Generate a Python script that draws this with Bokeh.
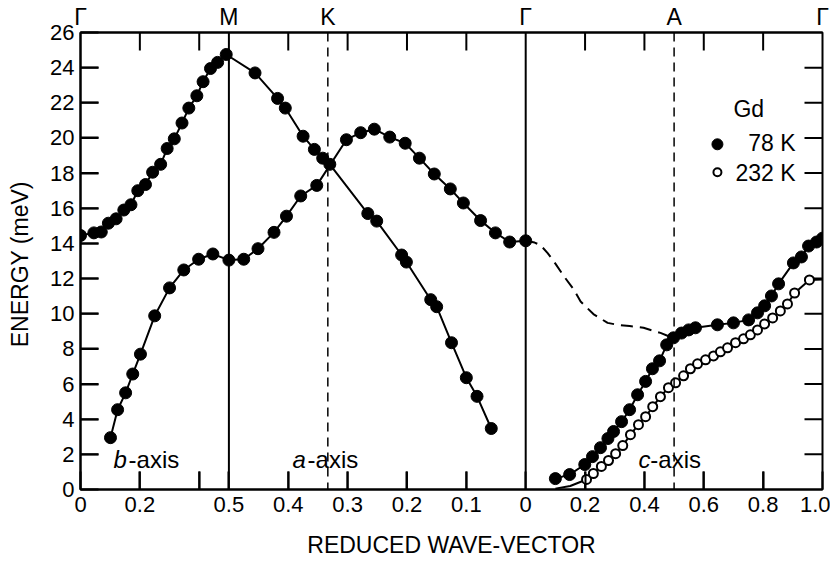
from bokeh.plotting import figure
from bokeh.models import Range1d, LinearAxis, FixedTicker, Span
from bokeh.embed import file_html
from bokeh.resources import INLINE

# ---------------- data (reduced wave-vector q, energy in meV) ----------------
# b-axis (Gamma -> M), upper branch
b_up_q = [0.0, 0.045, 0.07, 0.094, 0.12, 0.146, 0.17, 0.193, 0.219, 0.243, 0.27,
          0.292, 0.316, 0.342, 0.365, 0.392, 0.413, 0.438, 0.462, 0.491]
b_up_E = [14.45, 14.6, 14.65, 15.15, 15.4, 15.9, 16.2, 17.0, 17.35, 18.05, 18.5,
          19.4, 19.95, 20.85, 21.7, 22.4, 23.2, 23.95, 24.3, 24.75]
# a-axis (M -> K -> Gamma), continuation of the upper branch
a_up_q = [0.456, 0.418, 0.405, 0.375, 0.356, 0.342, 0.33, 0.266, 0.251, 0.209,
          0.201, 0.16, 0.15, 0.125, 0.1, 0.082, 0.058]
a_up_E = [23.7, 22.25, 21.7, 20.1, 19.35, 18.85, 18.5, 15.7, 15.27, 13.34,
          12.94, 10.8, 10.4, 8.35, 6.36, 5.3, 3.47]
# b-axis lower branch
b_lo_q = [0.101, 0.125, 0.152, 0.176, 0.202, 0.25, 0.3, 0.348, 0.398, 0.446, 0.5]
b_lo_E = [2.95, 4.54, 5.5, 6.57, 7.7, 9.88, 11.47, 12.49, 13.1, 13.4, 13.05]
# a-axis continuation of the lower branch
a_lo_q = [0.475, 0.451, 0.424, 0.403, 0.379, 0.352, 0.302, 0.278, 0.255, 0.229,
          0.203, 0.179, 0.154, 0.127, 0.105, 0.076, 0.051, 0.027, 0.0]
a_lo_E = [13.1, 13.7, 14.63, 15.55, 16.7, 17.3, 19.9, 20.3, 20.5, 20.05,
          19.7, 18.85, 17.95, 17.1, 16.3, 15.3, 14.6, 14.08, 14.15]
# c-axis (Gamma -> A -> Gamma), 78 K
c78_q = [0.100, 0.148, 0.199, 0.225, 0.252, 0.277, 0.296, 0.323, 0.35, 0.377, 0.404,
         0.427, 0.451, 0.475, 0.498, 0.525, 0.549, 0.572, 0.646, 0.70, 0.751, 0.781,
         0.805, 0.828, 0.852, 0.902, 0.929, 0.953, 0.98, 1.0]
c78_E = [0.62, 0.85, 1.42, 1.87, 2.38, 2.9, 3.3, 3.86, 4.54, 5.39, 6.15,
         6.87, 7.32, 8.23, 8.63, 8.9, 9.08, 9.2, 9.37, 9.48, 9.65, 10.05,
         10.45, 11.01, 11.7, 12.89, 13.23, 13.85, 14.08, 14.3]
# c-axis, 232 K
c232_q = [0.205, 0.228, 0.255, 0.279, 0.303, 0.327, 0.353, 0.38, 0.404, 0.428,
          0.454, 0.481, 0.505, 0.532, 0.555, 0.579, 0.606, 0.633, 0.656, 0.68,
          0.707, 0.734, 0.757, 0.781, 0.805, 0.832, 0.858, 0.882, 0.906, 0.956]
c232_E = [0.57, 0.91, 1.31, 1.65, 2.04, 2.5, 3.12, 3.69, 4.14, 4.71,
          5.28, 5.79, 6.07, 6.47, 6.87, 7.15, 7.38, 7.6, 7.83, 8.06,
          8.35, 8.57, 8.8, 9.08, 9.42, 9.76, 10.16, 10.56, 11.18, 11.92]
# fitted-curve ends drawn without points
c232_start_q = [0.10, 0.15]
c232_start_E = [0.05, 0.2]
c232_end_q = [1.0]
c232_end_E = [11.95]
# dashed guide line (Gamma -> A)
guide_q = [0.0, 0.03, 0.05, 0.074, 0.10, 0.128, 0.161, 0.185, 0.228, 0.276, 0.309,
           0.35, 0.397, 0.454, 0.495]
guide_E = [14.15, 14.05, 13.9, 13.45, 12.85, 12.15, 11.4, 10.7, 9.98, 9.48, 9.37,
           9.3, 9.2, 8.91, 8.63]

# tick labels per segment
seg1_ticks = [0.0, 0.2, 0.4, 0.5]
seg1_labels = ["0", "0.2", "", "0.5"]
seg2_ticks = [0.4, 0.3, 0.2, 0.1, 0.0]
seg2_labels = ["0.4", "0.3", "0.2", "0.1", "0"]
seg3_ticks = [0.2, 0.4, 0.6, 0.8, 1.0]
seg3_labels = ["0.2", "0.4", "0.6", "0.8", "1.0"]
sym_labels = ["\u0393", "M", "K", "\u0393", "A", "\u0393"]
y_ticks = list(range(0, 27, 2))
legend_labels = ["Gd", "78 K", "232 K"]
branch_labels = [("b", "-axis"), ("a", "-axis"), ("c", "-axis")]


# mapping of each segment's reduced wave-vector onto one common axis
def u1(q):
    return round(q, 6)


def u2(q):
    return round(0.5 + 2.0 * (0.5 - q), 6)


def u3(q):
    return round(1.5 + q, 6)


sym_pos = [u1(0.0), u1(0.5), u2(1.0 / 3.0), u3(0.0), u3(0.5), u3(1.0)]

X0, X1, Y0, Y1 = 0.0, 2.5, 0.0, 26.0
FRAME_W, FRAME_H = 742, 458
p = figure(width=830, height=568, output_backend="svg", toolbar_location=None,
           x_range=Range1d(X0, X1), y_range=Range1d(Y0, Y1),
           min_border_left=80, min_border_top=31, min_border_right=8, min_border_bottom=79,
           background_fill_color="white", border_fill_color="white")
p.grid.visible = False
p.outline_line_color = "black"
p.outline_line_width = 2

# ---- axes ----
bottom_ticks = [u1(t) for t in seg1_ticks] + [u2(t) for t in seg2_ticks] + [u3(t) for t in seg3_ticks]
bottom_labels = seg1_labels + seg2_labels + seg3_labels
xa = p.xaxis[0]
xa.ticker = FixedTicker(ticks=bottom_ticks)
xa.major_label_overrides = {t: l for t, l in zip(bottom_ticks, bottom_labels)}
ya = p.yaxis[0]
ya.ticker = FixedTicker(ticks=y_ticks)

top = LinearAxis(ticker=FixedTicker(ticks=sym_pos))
top.major_label_overrides = dict(zip(sym_pos, sym_labels))
p.add_layout(top, "above")

xa.major_tick_in = 18
xa.major_tick_out = 0
xa.major_tick_line_width = 2
ya.major_tick_in = 18
ya.major_tick_out = 0
ya.major_tick_line_width = 2
top.major_tick_in = 0
top.major_tick_out = 0
for ax in [xa, ya, top]:
    ax.axis_line_width = 2
    ax.major_label_text_color = "black"
xa.major_label_text_font_size = "22px"
ya.major_label_text_font_size = "22px"
top.major_label_text_font_size = "23px"
for ax in [xa, ya]:
    ax.axis_label_text_font_size = "23px"
    ax.axis_label_text_font_style = "normal"
    ax.axis_label_text_color = "black"
xa.major_label_standoff = 7
ya.major_label_standoff = 6
top.major_label_standoff = 3
xa.axis_label = "REDUCED WAVE-VECTOR"
ya.axis_label = "ENERGY  (meV)"
xa.axis_label_standoff = 17
ya.axis_label_standoff = 14

# ---- inward tick marks (18 px long) for the top and right sides ----
tlx = 18.0 * (X1 - X0) / FRAME_W
tly = 18.0 * (Y1 - Y0) / FRAME_H
inner_x = [u1(0.2), u1(0.4)] + [u2(t) for t in seg2_ticks[:-1]] + [u3(t) for t in seg3_ticks[:-1]]
inner_y = [t for t in y_ticks if Y0 < t < Y1]
tick_xs, tick_ys = [], []
for t in inner_x:
    tick_xs += [[t, t], [t, t]]
    tick_ys += [[Y0, Y0 + tly], [Y1, Y1 - tly]]
for t in inner_y:
    tick_xs += [[X0, X0 + tlx], [X1, X1 - tlx]]
    tick_ys += [[t, t], [t, t]]
p.multi_line(tick_xs, tick_ys, line_color="black", line_width=2)

# ---- vertical symmetry lines ----
p.add_layout(Span(location=sym_pos[1], dimension="height", line_color="black", line_width=2))
p.add_layout(Span(location=sym_pos[3], dimension="height", line_color="black", line_width=2))
p.add_layout(Span(location=sym_pos[2], dimension="height", line_color="black", line_width=1.5,
                  line_dash="9 6"))
p.add_layout(Span(location=sym_pos[4], dimension="height", line_color="black", line_width=1.5,
                  line_dash="9 6"))

# ---- curves ----
up_x = [u1(q) for q in b_up_q] + [u2(q) for q in a_up_q]
up_y = b_up_E + a_up_E
lo_x = [u1(q) for q in b_lo_q] + [u2(q) for q in a_lo_q]
lo_y = b_lo_E + a_lo_E
c78_x = [u3(q) for q in c78_q]
c232_x = [u3(q) for q in c232_start_q + c232_q + c232_end_q]
c232_y = c232_start_E + c232_E + c232_end_E
g_x = [u3(q) for q in guide_q]

p.line(up_x, up_y, line_color="black", line_width=2)
p.line(lo_x, lo_y, line_color="black", line_width=2)
p.line(c78_x, c78_E, line_color="black", line_width=2)
p.line(c232_x, c232_y, line_color="black", line_width=2)
p.line(g_x, guide_E, line_color="black", line_width=2, line_dash="12 7")

p.scatter(up_x, up_y, size=12, color="black")
p.scatter(lo_x, lo_y, size=12, color="black")
p.scatter(c78_x, c78_E, size=12, color="black")
p.scatter([u3(q) for q in c232_q], c232_E, size=9, fill_color="white",
          line_color="black", line_width=2)

# ---- branch labels ----
lab_pos = [(0.111, 0.162), (0.714, 0.765), (1.88, 1.92)]
for (it, rest), (xi, xr) in zip(branch_labels, lab_pos):
    p.text([xi], [1.7], text=[it], text_font_size="24px", text_font_style="italic",
           text_baseline="alphabetic", text_align="left", text_color="black")
    p.text([xr], [1.7], text=[rest], text_font_size="24px",
           text_baseline="alphabetic", text_align="left", text_color="black")

# ---- legend ----
p.text([2.2], [21.63], text=[legend_labels[0]], text_font_size="23px",
       text_baseline="middle", text_align="left", text_color="black")
p.text([2.409, 2.409], [19.7, 18.0], text=legend_labels[1:], text_font_size="23px",
       text_baseline="middle", text_align="right", text_color="black")
p.scatter([2.146], [19.64], size=11, color="black")
p.scatter([2.146], [18.05], size=8, fill_color="white", line_color="black", line_width=2)

open("out.html", "w").write(file_html(p, INLINE))
